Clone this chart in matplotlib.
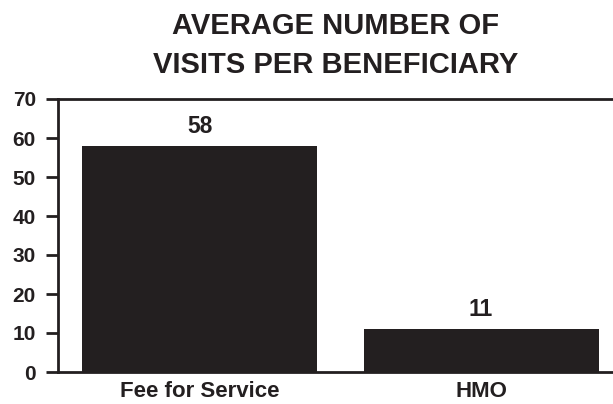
import matplotlib
matplotlib.use("Agg")
import matplotlib.pyplot as plt

categories = ["Fee for Service", "HMO"]
values = [58, 11]
yticks = [0, 10, 20, 30, 40, 50, 60, 70]
title = "AVERAGE NUMBER OF\nVISITS PER BENEFICIARY"

dark = "#231f20"
plt.rcParams['font.family'] = ['Liberation Sans', 'DejaVu Sans']

fig = plt.figure(figsize=(6.13, 4.04), dpi=100)
ax = fig.add_axes([58/613, 1 - 372/404, 1 - 58/613, (372 - 99)/404])

x = list(range(len(categories)))
bars = ax.bar(x, values, width=0.835, color=dark, zorder=2)
ax.set_xlim(-0.503, 1.469)
ax.set_ylim(0, 70)
ax.set_yticks(yticks)
ax.set_yticklabels([str(t) for t in yticks], fontsize=15, fontweight='bold', color=dark)
ax.set_xticks(x)
ax.set_xticklabels(categories, fontsize=16, fontweight='bold', color=dark)

for s in ['left', 'bottom', 'top']:
    ax.spines[s].set_linewidth(2)
    ax.spines[s].set_color(dark)
ax.spines['right'].set_visible(False)
ax.tick_params(axis='y', length=8.5, width=2, color=dark, pad=7.5)
ax.tick_params(axis='x', length=0, pad=6.5)

for xi, v in zip(x, values):
    ax.annotate(str(v), (xi, v), xytext=(0, 5.5), textcoords='offset points',
                ha='center', va='bottom', fontsize=16.5, fontweight='bold', color=dark)

ax.set_title(title, fontsize=21, fontweight='bold', color=dark, pad=19, linespacing=1.48)

fig.savefig("out.png", dpi=100)
